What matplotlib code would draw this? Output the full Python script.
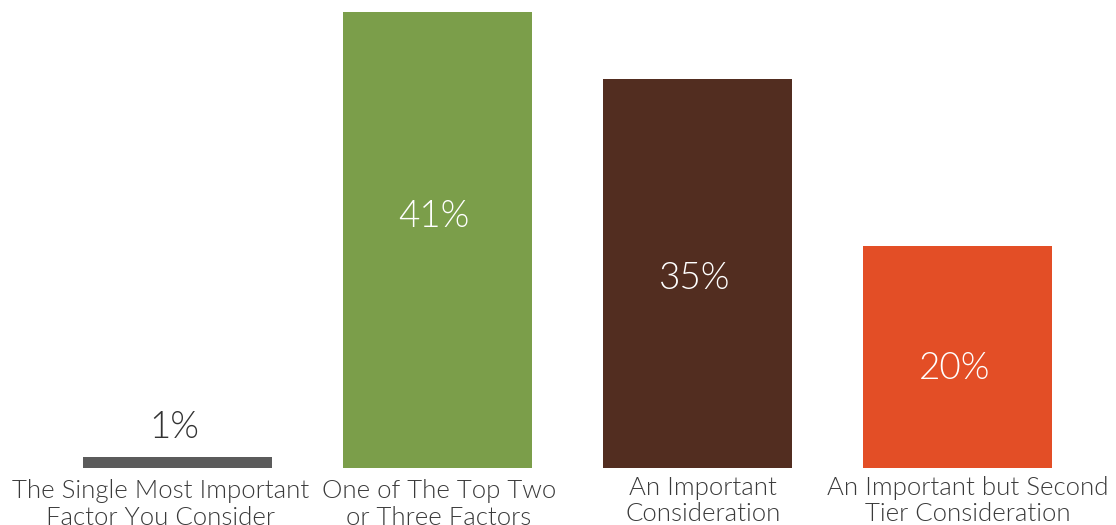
import matplotlib.pyplot as plt
from matplotlib import font_manager

categories = [
    "The Single Most Important\nFactor You Consider",
    "One of The Top Two\nor Three Factors",
    "An Important\nConsideration",
    "An Important but Second\nTier Consideration",
]
values = [1, 41, 35, 20]
value_labels = ["1%", "41%", "35%", "20%"]

colors = ["#5b5b5b", "#7b9e4a", "#522d20", "#e34e26"]
label_colors = ["#333333", "white", "white", "white"]
# vertical nudge of value labels relative to the bar middle (data units)
label_nudge = [2.6, 2.1, -0.5, -1.1]
# small horizontal / vertical offsets for the category captions
cat_dx = [-0.065, 0.005, 0.02, 0.04]
cat_dy = [0.0, 0.0, 0.3, 0.3]

family = "Lato"
names = {f.name for f in font_manager.fontManager.ttflist}
if family not in names:
    family = "DejaVu Sans"

fig = plt.figure(figsize=(11.16, 5.25), dpi=100)
ax = fig.add_axes([0, 0, 1, 1])

x = list(range(len(values)))
ax.bar(x, values, width=0.727, color=colors)

for i, v in enumerate(values):
    if v < 5:
        y = v + label_nudge[i]
    else:
        y = v / 2 + label_nudge[i]
    ax.text(i - 0.012, y, value_labels[i], ha="center", va="center", fontsize=26.5,
            color=label_colors[i], family=family, fontweight=300)

for i, c in enumerate(categories):
    ax.text(i + cat_dx[i], -1.0 + cat_dy[i], c, ha="center", va="top",
            fontsize=18.5, color="#3a3a3a", family=family,
            fontweight=300, linespacing=1.13)

ax.set_xlim(-177.5 / 260, (1116 - 177.5) / 260)
ax.set_ylim(-57 / 11.12, (525 - 57) / 11.12)
ax.axis("off")

fig.savefig("out.png", dpi=100)
